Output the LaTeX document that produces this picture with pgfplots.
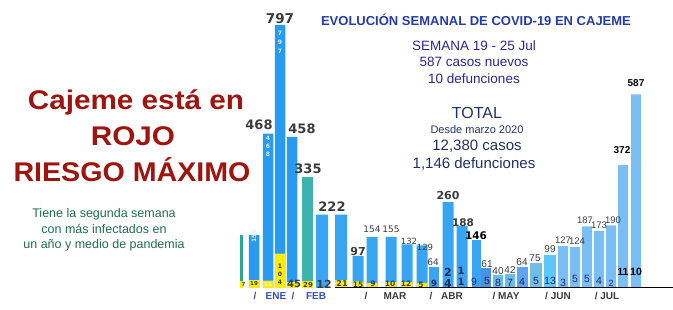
\documentclass[border=0pt]{standalone}
\usepackage{pgfplots}
\pgfplotsset{compat=1.18}
\usepackage{fontspec}
\setmainfont{Liberation Sans}
\newfontfamily\dv{DejaVu Sans}
\definecolor{azul}{RGB}{40,155,240}
\definecolor{azulb}{RGB}{55,165,242}
\definecolor{tealb}{RGB}{62,178,175}
\definecolor{tealc}{RGB}{40,170,150}
\definecolor{may1}{RGB}{75,145,225}
\definecolor{may2}{RGB}{105,188,235}
\definecolor{may3}{RGB}{92,165,240}
\definecolor{may4}{RGB}{112,190,230}
\definecolor{jun1}{RGB}{92,200,250}
\definecolor{jul}{RGB}{122,190,246}
\definecolor{amar}{RGB}{250,235,10}
\definecolor{rojo}{RGB}{160,20,15}
\definecolor{verde}{RGB}{30,110,80}
\definecolor{titulo}{RGB}{35,60,170}
\definecolor{semana}{RGB}{40,40,150}
\definecolor{total}{RGB}{30,50,100}
\definecolor{lab}{RGB}{60,60,60}
\definecolor{mes}{RGB}{50,80,180}
\definecolor{def}{RGB}{30,40,95}
\begin{document}
\begin{tikzpicture}
\path[use as bounding box] (0,0) rectangle (673pt,310pt);
\begin{axis}[at={(0pt,22pt)}, anchor=south west, scale only axis,
  width=673pt, height=288pt, xmin=0, xmax=673, ymin=0, ymax=872.73,
  axis lines=none, clip=false]
% cases
\addplot[ybar, bar width=3pt, fill=tealc, draw=none] coordinates {(241.5,160)};
\addplot[ybar, bar width=10.5pt, fill=azul, draw=none] coordinates {(254,160) (268,468) (280,797) (292,458)};
\addplot[ybar, bar width=11pt, fill=tealb, draw=none] coordinates {(307,335)};
\addplot[ybar, bar width=12pt, fill=azulb, draw=none] coordinates {(322,222) (341,222)};
\addplot[ybar, bar width=11pt, fill=azulb, draw=none] coordinates {(358,97) (372,154) (391,155) (407,132) (422,129)};
\addplot[ybar, bar width=10pt, fill=azulb, draw=none] coordinates {(434,64)};
\addplot[ybar, bar width=11pt, fill=azulb, draw=none] coordinates {(448,260) (462,188)};
\addplot[ybar, bar width=9pt, fill=azulb, draw=none] coordinates {(476,146)};
\addplot[ybar, bar width=10pt, fill=may1, draw=none] coordinates {(486,61)};
\addplot[ybar, bar width=10pt, fill=may2, draw=none] coordinates {(498,40) (510,42)};
\addplot[ybar, bar width=11pt, fill=may3, draw=none] coordinates {(522,64)};
\addplot[ybar, bar width=12pt, fill=may4, draw=none] coordinates {(536,75)};
\addplot[ybar, bar width=12pt, fill=jun1, draw=none] coordinates {(550,99)};
\addplot[ybar, bar width=10pt, fill=jul, draw=none] coordinates {(563,127) (575,124) (587,187) (599,173) (611,190) (623,372) (636,587)};
% deaths (yellow)
\addplot[ybar, bar width=3pt, fill=amar, draw=none] coordinates {(241.5,22)};
\addplot[ybar, bar width=10.5pt, fill=amar, draw=none] coordinates {(254,24) (268,22) (280,104) (292,18)};
\addplot[ybar, bar width=11pt, fill=amar, draw=none] coordinates {(307,20)};
\addplot[ybar, bar width=12pt, fill=amar, draw=none] coordinates {(341,24)};
\addplot[ybar, bar width=11pt, fill=amar, draw=none] coordinates {(358,20) (372,15) (391,18) (407,18) (422,15)};
\draw[black, line width=1pt] (axis cs:335,0) -- (axis cs:673,0);
\end{axis}
\begin{scope}[x=1pt, y=-1pt, shift={(0pt,310pt)}]
% title block
\node[font=\fontsize{13}{15}\selectfont\bfseries, text=titulo] at (476,20) {EVOLUCIÓN SEMANAL DE COVID-19 EN CAJEME};
\node[font=\fontsize{13.5}{15}\selectfont, text=semana] at (474,46) {SEMANA 19 - 25 Jul};
\node[font=\fontsize{13.5}{15}\selectfont, text=semana] at (474,62) {587 casos nuevos};
\node[font=\fontsize{13.5}{15}\selectfont, text=semana] at (474,79) {10 defunciones};
\node[font=\fontsize{16}{18}\selectfont, text=total] at (477,113) {TOTAL};
\node[font=\fontsize{11}{13}\selectfont, text=total] at (477,130) {Desde marzo 2020};
\node[font=\fontsize{15}{17}\selectfont, text=total] at (477,146) {12,380 casos};
\node[font=\fontsize{15}{17}\selectfont, text=total] at (474,164) {1,146 defunciones};
% left block
\node[font=\fontsize{27}{29}\selectfont\bfseries, text=rojo, xscale=1.1] at (136,102) {Cajeme está en};
\node[font=\fontsize{27}{29}\selectfont\bfseries, text=rojo, xscale=1.1] at (133,136) {ROJO};
\node[font=\fontsize{27}{29}\selectfont\bfseries, text=rojo, xscale=1.06] at (132,170) {RIESGO MÁXIMO};
\node[font=\fontsize{12.5}{14}\selectfont, text=verde] at (104,214) {Tiene la segunda semana};
\node[font=\fontsize{12.5}{14}\selectfont, text=verde] at (104,229) {con más infectados en};
\node[font=\fontsize{12.5}{14}\selectfont, text=verde] at (104,245) {un año y medio de pandemia};
% top labels
\begin{scope}[every node/.style={inner sep=0pt, anchor=south, text=lab}]
\node[font=\dv\bfseries\fontsize{13.5}{14}\selectfont] at (280,24) {797};
\node[font=\dv\bfseries\fontsize{13}{14}\selectfont] at (259,130) {468};
\node[font=\dv\bfseries\fontsize{13}{14}\selectfont] at (302,134) {458};
\node[font=\dv\bfseries\fontsize{13}{14}\selectfont] at (308,174) {335};
\node[font=\dv\bfseries\fontsize{13}{14}\selectfont] at (332,212) {222};
\node[font=\dv\bfseries\fontsize{11}{12}\selectfont] at (358,256) {97};
\node[font=\dv\fontsize{9}{10}\selectfont] at (372,233) {154};
\node[font=\dv\fontsize{9}{10}\selectfont] at (391,233) {155};
\node[font=\dv\fontsize{8.5}{10}\selectfont] at (409,245) {132};
\node[font=\dv\fontsize{8.5}{10}\selectfont] at (425,251) {129};
\node[font=\dv\fontsize{9}{10}\selectfont] at (433,266) {64};
\node[font=\dv\bfseries\fontsize{11}{12}\selectfont] at (448,200) {260};
\node[font=\dv\bfseries\fontsize{10.5}{12}\selectfont] at (463,227) {188};
\node[font=\dv\bfseries\fontsize{10.5}{12}\selectfont, text=black] at (476,240) {146};
\node[font=\fontsize{10}{12}\selectfont] at (487,268) {61};
\node[font=\fontsize{10}{12}\selectfont] at (498,275) {40};
\node[font=\fontsize{10}{12}\selectfont] at (510,274) {42};
\node[font=\fontsize{10}{12}\selectfont] at (522,266) {64};
\node[font=\fontsize{10}{12}\selectfont] at (535,262) {75};
\node[font=\fontsize{10}{12}\selectfont] at (550,253) {99};
\node[font=\fontsize{9.5}{12}\selectfont] at (563,244) {127};
\node[font=\fontsize{9.5}{12}\selectfont] at (577,245) {124};
\node[font=\fontsize{9.5}{12}\selectfont] at (585,224) {187};
\node[font=\fontsize{9.5}{12}\selectfont] at (599,229) {173};
\node[font=\fontsize{9.5}{12}\selectfont] at (613,224) {190};
\node[font=\bfseries\fontsize{10}{12}\selectfont, text=black] at (622,154) {372};
\node[font=\bfseries\fontsize{10}{12}\selectfont, text=black] at (636,87) {587};
\end{scope}
% digits inside bars
\begin{scope}[every node/.style={inner sep=0pt, text=white!85!azul, font=\dv\bfseries\fontsize{6}{7}\selectfont}]
\node at (280,33) {7};\node at (280,42) {9};\node at (280,51) {7};
\node at (268,138) {4};\node at (268,146) {6};\node at (268,154) {8};
\node[rotate=90] at (254,236) {152};
\end{scope}
% deaths labels
\begin{scope}[every node/.style={inner sep=0pt, text=lab}]
\node[font=\dv\bfseries\fontsize{5.5}{6}\selectfont] at (243.5,284) {7};
\node[font=\dv\bfseries\fontsize{5.5}{6}\selectfont] at (254,284) {19};
\node[font=\dv\bfseries\fontsize{5.5}{6}\selectfont, text=white] at (268,284) {11};
\node[font=\dv\bfseries\fontsize{6}{7}\selectfont] at (280,266) {1};
\node[font=\dv\bfseries\fontsize{6}{7}\selectfont] at (280,274) {0};
\node[font=\dv\bfseries\fontsize{6}{7}\selectfont] at (280,282) {4};
\node[font=\dv\bfseries\fontsize{10}{11}\selectfont] at (294,284) {45};
\node[font=\dv\bfseries\fontsize{7}{8}\selectfont] at (308,285) {29};
\node[font=\dv\bfseries\fontsize{11}{12}\selectfont] at (324,284) {12};
\node[font=\dv\bfseries\fontsize{8}{9}\selectfont] at (342,284) {21};
\node[font=\dv\bfseries\fontsize{7.5}{8}\selectfont] at (358,285) {15};
\node[font=\dv\bfseries\fontsize{7.5}{8}\selectfont] at (373,284) {9};
\node[font=\dv\bfseries\fontsize{7.5}{8}\selectfont] at (390,284) {10};
\node[font=\dv\bfseries\fontsize{7.5}{8}\selectfont] at (406,284) {12};
\node[font=\dv\bfseries\fontsize{7.5}{8}\selectfont] at (421,285) {5};
\node[font=\dv\bfseries\fontsize{8.5}{9}\selectfont, text=def] at (434,283) {9};
\node[font=\dv\bfseries\fontsize{11}{12}\selectfont, text=def] at (448,272) {2};
\node[font=\dv\bfseries\fontsize{11}{12}\selectfont, text=def] at (448,283) {4};
\node[font=\dv\bfseries\fontsize{10}{11}\selectfont, text=def] at (461,271) {1};
\node[font=\dv\bfseries\fontsize{10}{11}\selectfont, text=def] at (461,282) {1};
\node[font=\fontsize{10.5}{11}\selectfont, text=def] at (474,282) {9};
\node[font=\fontsize{10.5}{11}\selectfont, text=def] at (487,281) {5};
\node[font=\fontsize{10.5}{11}\selectfont, text=def] at (498,283) {8};
\node[font=\fontsize{10.5}{11}\selectfont, text=def] at (510,283) {7};
\node[font=\fontsize{10.5}{11}\selectfont, text=def] at (522,282) {4};
\node[font=\fontsize{10.5}{11}\selectfont, text=def] at (536,281) {5};
\node[font=\fontsize{10.5}{11}\selectfont, text=def] at (550,281) {13};
\node[font=\fontsize{10.5}{11}\selectfont, text=def] at (563,283) {3};
\node[font=\fontsize{10.5}{11}\selectfont, text=def] at (575,279) {5};
\node[font=\fontsize{10.5}{11}\selectfont, text=def] at (587,279) {5};
\node[font=\fontsize{10.5}{11}\selectfont, text=def] at (599,281) {4};
\node[font=\fontsize{9}{10}\selectfont, text=def] at (611,283) {2};
\node[font=\bfseries\fontsize{10.5}{11}\selectfont, text=black] at (623,272) {11};
\node[font=\bfseries\fontsize{10.5}{11}\selectfont, text=black] at (636,272) {10};
\end{scope}
% month labels
\begin{scope}[every node/.style={inner sep=0pt, font=\bfseries\fontsize{10}{11}\selectfont}]
\node[text=mes] at (255,296) {/};
\node[text=mes] at (276,296) {ENE};
\node[text=mes] at (293,296) {/};
\node[text=mes] at (316,296) {FEB};
\node[text=lab] at (366,296) {/};
\node[text=lab] at (395,296) {MAR};
\node[text=lab] at (431,296) {/};
\node[text=lab] at (452,296) {ABR};
\node[text=lab] at (506,296) {/ MAY};
\node[text=lab] at (558,296) {/ JUN};
\node[text=lab] at (607,296) {/ JUL};
\end{scope}
\end{scope}
\end{tikzpicture}
\end{document}
